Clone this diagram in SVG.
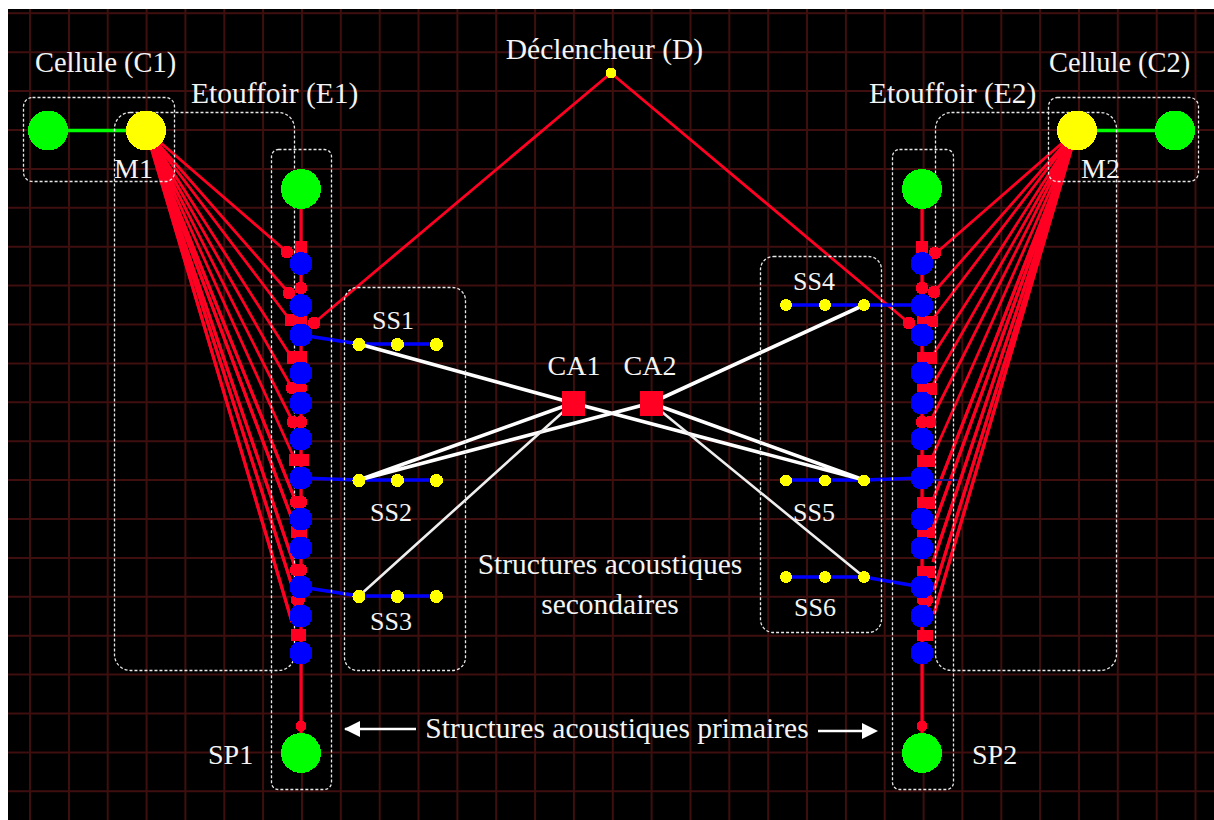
<svg xmlns="http://www.w3.org/2000/svg" width="1214" height="820" viewBox="0 0 1214 820">
<style>
.g{stroke:#3f0f0f;stroke-width:2;fill:none}
.box{fill:none;stroke:#e8e8e8;stroke-width:1.3;stroke-dasharray:3 2}
.r{stroke:#ff0022;stroke-width:2.8;fill:none}
.rt{stroke:#ff0022;stroke-width:3.2;fill:none}
.b{stroke:#0000ff;stroke-width:3.6;fill:none}
.w{stroke:#fff;stroke-width:3.6;fill:none}
.wt{stroke:#eee;stroke-width:2.6;fill:none}
.gl{stroke:#00ff00;stroke-width:3.6;fill:none}
.n{shape-rendering:crispEdges}
.green{fill:#00ff00}.yellow{fill:#ffff00}.blue{fill:#0000ff}.red{fill:#ff0022}
text{font-family:"Liberation Serif","Times New Roman",serif;font-size:29.5px;fill:#f4f4f4}
.s{font-size:26px}.t{font-size:28px}.c{font-size:28.4px}
.m{text-anchor:middle}
</style>
<defs><marker id="ah" markerWidth="16" markerHeight="16" refX="1" refY="8" orient="auto" markerUnits="userSpaceOnUse"><path d="M16 0L0 8L16 16Z" fill="#fff"/></marker></defs>
<rect width="1214" height="820" fill="#fff"/>
<rect x="8" y="9" width="1206" height="811" fill="#000"/>
<g id="grid"><path class="g" d="M30 9V820M69 9V820M107.7 9V820M146.6 9V820M185.4 9V820M224.3 9V820M263.1 9V820M302 9V820M340.8 9V820M379.7 9V820M418.5 9V820M457.4 9V820M496.2 9V820M535.1 9V820M573.9 9V820M612.8 9V820M651.6 9V820M690.5 9V820M729.3 9V820M768.2 9V820M807 9V820M845.9 9V820M884.7 9V820M923.6 9V820M962.4 9V820M1001.3 9V820M1040.1 9V820M1079 9V820M1117.8 9V820M1156.7 9V820M1195.5 9V820"/><path class="g" d="M8 13.3H1214M8 52.2H1214M8 91.1H1214M8 130H1214M8 168.9H1214M8 207.8H1214M8 246.7H1214M8 285.6H1214M8 324.5H1214M8 363.4H1214M8 402.3H1214M8 441.2H1214M8 480.1H1214M8 519H1214M8 557.9H1214M8 596.8H1214M8 635.7H1214M8 674.6H1214M8 713.5H1214M8 752.4H1214M8 791.3H1214"/></g>
<g id="connectors">
<path class="gl" d="M48 130.500H146M1077 130.500H1175"/>
<path class="rt" d="M301 189V753M922 189V753"/>
<path class="r" d="M146 130L287 252M146 130L289 293M146 130L290 320M146 130L292 358M146 130L292 388M146 130L293 422M146 130L295 460M146 130L296 502M146 130L297 532M146 130L296 570M146 130L296 598M146 130L292 622"/>
<path class="rt" d="M146 130L296 570M146 130L296 598M146 130L292 622M146 130L297 532M146 130L296 502"/>
<path class="r" d="M1077 130L935 254M1077 130L934 292M1077 130L932 320M1077 130L931 358M1077 130L931 388M1077 130L930 422M1077 130L931 460M1077 130L933 500M1077 130L933 528M1077 130L933 562M1077 130L934 590M1077 130L934 614"/>
<path class="rt" d="M1077 130L933 528M1077 130L933 562M1077 130L934 590M1077 130L934 614M1077 130L933 500"/>
<path class="r" d="M314 323L611 73L909 323"/>
<path class="b" d="M301 335L359 344H436M301 478L359 480H436M301 587L359 596H436M922 305H786M922 478L864 480H786M922 587L864 577H786"/>
<path d="M922 480H957" stroke="#1a1a90" stroke-width="2" fill="none"/>
<path class="w" d="M359 344L573 403M359 480L573 403M359 480L651 403M651 403L864 305M573 403L864 480M651 403L864 480"/>
<path class="wt" d="M359 596L573 403M651 403L864 577"/>
<path stroke="#fff" stroke-width="2.5" fill="none" marker-start="url(#ah)" d="M345 729H416"/>
<path stroke="#fff" stroke-width="2.5" fill="none" d="M818 731H864"/>
<path fill="#fff" d="M878 731L862 723V739Z"/>
</g>
<g id="boxes">
<rect class="box" x="23.5" y="97.5" width="151" height="84" rx="9"/>
<rect class="box" x="114.5" y="112.5" width="180" height="558" rx="16"/>
<rect class="box" x="271.5" y="149.5" width="60" height="640" rx="7"/>
<rect class="box" x="344.5" y="287.5" width="121" height="383" rx="13"/>
<rect class="box" x="1048.5" y="97.5" width="150" height="84" rx="9"/>
<rect class="box" x="935.5" y="112.5" width="181" height="558" rx="16"/>
<rect class="box" x="892.5" y="149.5" width="61" height="640" rx="7"/>
<rect class="box" x="760.5" y="256.5" width="121" height="376" rx="13"/>
</g>
<g id="column-left-red" class="n red">
<rect x="295" y="241" width="12" height="12"/><circle cx="287" cy="252" r="6.5"/><circle cx="301" cy="288" r="6.5"/><circle cx="289" cy="293" r="6.5"/><rect x="285" y="314" width="22" height="12"/><rect x="287" y="351" width="20" height="13"/><circle cx="292" cy="388" r="6.5"/><circle cx="301" cy="388" r="6.5"/><circle cx="293" cy="422" r="6.5"/><circle cx="301" cy="422" r="6.5"/><rect x="289" y="454" width="20" height="12"/><circle cx="296" cy="502" r="6.5"/><circle cx="301" cy="502" r="6.5"/><rect x="291" y="526" width="16" height="12"/><circle cx="301" cy="570" r="6.5"/><circle cx="296" cy="570" r="6.5"/><circle cx="298" cy="600" r="7"/><rect x="291" y="629" width="15" height="12"/><circle cx="301" cy="726" r="5.5"/>
</g>
<g id="column-right-red" class="n red">
<rect x="916" y="241" width="12" height="12"/><circle cx="935" cy="253" r="6.5"/><circle cx="922" cy="288" r="6.5"/><circle cx="934" cy="292" r="6.5"/><rect x="917" y="316" width="21" height="11"/><rect x="917" y="352" width="20" height="12"/><rect x="917" y="383" width="20" height="12"/><circle cx="930" cy="422" r="6.5"/><circle cx="922" cy="422" r="6.5"/><rect x="917" y="455" width="18" height="12"/><rect x="917" y="497" width="18" height="12"/><rect x="917" y="527" width="18" height="11"/><rect x="917" y="566" width="18" height="12"/><circle cx="925" cy="600" r="8"/><rect x="917" y="630" width="16" height="11"/><circle cx="922" cy="726" r="5.5"/>
</g>
<g id="D1" class="n"><circle cx="909" cy="323" r="6.5" class="red"/><circle cx="314" cy="323" r="6.5" class="red"/></g>
<g id="E1-nodes" class="n blue"><circle cx="301" cy="263.5" r="11.5"/><circle cx="301" cy="305.5" r="11.5"/><circle cx="301" cy="335" r="11.5"/><circle cx="301" cy="373" r="11.5"/><circle cx="301" cy="403" r="11.5"/><circle cx="301" cy="439" r="11.5"/><circle cx="301" cy="478" r="11.5"/><circle cx="301" cy="519" r="11.5"/><circle cx="301" cy="548" r="11.5"/><circle cx="301" cy="587" r="11.5"/><circle cx="301" cy="616" r="11.5"/><circle cx="301" cy="653" r="11.5"/></g>
<g id="E2-nodes" class="n blue"><circle cx="922" cy="263.5" r="11.5"/><circle cx="922" cy="305.5" r="11.5"/><circle cx="922" cy="335" r="11.5"/><circle cx="922" cy="373" r="11.5"/><circle cx="922" cy="403" r="11.5"/><circle cx="922" cy="439" r="11.5"/><circle cx="922" cy="478" r="11.5"/><circle cx="922" cy="519" r="11.5"/><circle cx="922" cy="548" r="11.5"/><circle cx="922" cy="587" r="11.5"/><circle cx="922" cy="616" r="11.5"/><circle cx="922" cy="653" r="11.5"/></g>
<g id="C1" class="n green"><circle cx="48" cy="130.5" r="20"/></g>
<g id="C2" class="n green"><circle cx="1175" cy="130.5" r="20"/></g>
<g id="M1" class="n yellow"><circle cx="146" cy="130.5" r="20"/></g>
<g id="M2" class="n yellow"><circle cx="1077" cy="130.5" r="20"/></g>
<g id="top-E1" class="n green"><circle cx="301" cy="189" r="20"/></g>
<g id="top-E2" class="n green"><circle cx="922" cy="189" r="20"/></g>
<g id="SP1" class="n green"><circle cx="301" cy="753" r="20"/></g>
<g id="SP2" class="n green"><circle cx="922" cy="753" r="20"/></g>
<g id="D" class="n yellow"><circle cx="611" cy="73" r="5.5"/></g>
<g id="SS1" class="n yellow"><circle cx="359" cy="344.5" r="6.5"/><circle cx="397.500" cy="344.5" r="6.5"/><circle cx="436.500" cy="344.5" r="6.5"/></g>
<g id="SS2" class="n yellow"><circle cx="359" cy="480.5" r="6.5"/><circle cx="397.500" cy="480.5" r="6.5"/><circle cx="436.500" cy="480.5" r="6.5"/></g>
<g id="SS3" class="n yellow"><circle cx="359" cy="596.5" r="6.5"/><circle cx="397.500" cy="596.5" r="6.5"/><circle cx="436.500" cy="596.5" r="6.5"/></g>
<g id="SS4" class="n yellow"><circle cx="786" cy="305" r="6"/><circle cx="825" cy="305" r="6"/><circle cx="864" cy="305" r="6"/></g>
<g id="SS5" class="n yellow"><circle cx="786" cy="480.5" r="6"/><circle cx="825" cy="480.5" r="6"/><circle cx="864" cy="480.5" r="6"/></g>
<g id="SS6" class="n yellow"><circle cx="786" cy="577" r="6"/><circle cx="825" cy="577" r="6"/><circle cx="864" cy="577" r="6"/></g>
<g id="CA1" class="n red"><rect x="562" y="391" width="23" height="25"/></g>
<g id="CA2" class="n red"><rect x="640" y="391" width="23" height="25"/></g>
<g id="labels">
<text x="35" y="72" class="c">Cellule (C1)</text>
<text x="1049" y="72" class="c">Cellule (C2)</text>
<text x="191" y="103">Etouffoir (E1)</text>
<text x="869" y="103">Etouffoir (E2)</text>
<text x="604.5" y="59" class="m">Déclencheur (D)</text>
<text x="114" y="178" class="t">M1</text>
<text x="1081" y="178" class="t">M2</text>
<text x="393" y="329" class="m s">SS1</text>
<text x="391" y="521" class="m s">SS2</text>
<text x="391" y="630" class="m s">SS3</text>
<text x="814" y="290" class="m s">SS4</text>
<text x="814" y="521" class="m s">SS5</text>
<text x="815" y="616" class="m s">SS6</text>
<text x="574" y="375" class="m t">CA1</text>
<text x="650" y="375" class="m t">CA2</text>
<text x="610" y="574" class="m">Structures acoustiques</text>
<text x="610" y="614" class="m">secondaires</text>
<text x="617" y="738" class="m">Structures acoustiques primaires</text>
<text x="208" y="764" class="t">SP1</text>
<text x="972" y="764" class="t">SP2</text>
</g>
</svg>
